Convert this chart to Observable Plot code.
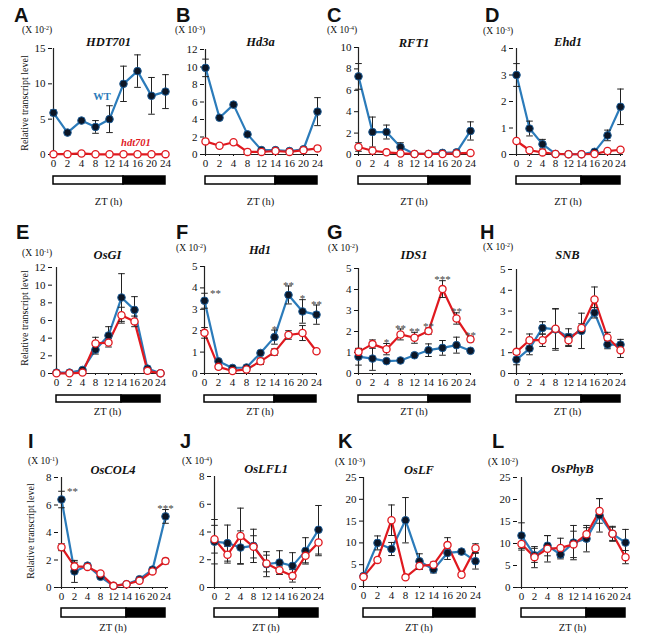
<!DOCTYPE html>
<html><head><meta charset="utf-8">
<script src="https://cdn.jsdelivr.net/npm/d3@7"></script>
<script src="https://cdn.jsdelivr.net/npm/@observablehq/plot@0.6"></script>
<style>
body{margin:0;background:#fff;}
#fig{position:relative;width:647px;height:640px;overflow:hidden;background:#fff;font-family:"Liberation Serif","Times New Roman","DejaVu Serif",serif;color:#111;}
.abs{position:absolute;white-space:nowrap;line-height:1;}
.letter{font-family:"Liberation Sans",Arial,sans-serif;font-weight:bold;font-size:20px;line-height:16px;transform:translate(0,-50%);}
.unit{font-size:9.5px;transform:translate(0,-50%);}
.unit sup{font-size:6px;vertical-align:top;position:relative;top:-1px;}
.title{font-weight:bold;font-style:italic;font-size:12.5px;transform:translate(-50%,-50%);}
.zt{font-size:10.5px;transform:translate(-50%,-50%);}
.ylab{font-size:10px;transform:translate(-50%,-50%) rotate(-90deg);}
.wtlab{font-weight:bold;font-size:10.5px;color:#2b7bba;transform:translate(-50%,-50%);}
.mutlab{font-weight:bold;font-style:italic;font-size:10.5px;color:#e0191f;transform:translate(-50%,-50%);}
#fig svg{position:absolute;overflow:visible;}
#fig svg text{font-family:"Liberation Serif","Times New Roman","DejaVu Serif",serif;}
</style></head>
<body><div id="fig"></div>
<script>
// ---------------- data ----------------
const zt = [0, 2, 4, 8, 12, 14, 16, 20, 24];
const phases = [{phase: "light", start: 0, end: 14}, {phase: "dark", start: 14, end: 24}];

// A HDT701 (x10^-2)
const hdt701WT     = [5.9, 3.1, 4.8, 3.9, 5.0, 10.0, 11.8, 8.3, 8.9];
const hdt701WTErr  = [0.4, 0.2, 0.25, 0.9, 1.9, 2.5, 2.3, 2.6, 2.4];
const hdt701Mut    = [0.05, 0.05, 0.15, 0.03, 0.03, 0.03, 0.03, 0.03, 0.05];
const hdt701MutErr = [0.05, 0.05, 0.1, 0.02, 0.02, 0.02, 0.02, 0.02, 0.03];
// B Hd3a (x10^-3)
const hd3aWT     = [9.9, 4.2, 5.7, 2.3, 0.5, 0.5, 0.4, 0.6, 4.9];
const hd3aWTErr  = [1.0, 0.2, 0.2, 0.2, 0.1, 0.1, 0.1, 0.15, 1.6];
const hd3aMut    = [1.5, 1.0, 1.4, 0.3, 0.3, 0.4, 0.3, 0.5, 0.7];
const hd3aMutErr = [0.2, 0.2, 0.2, 0.1, 0.1, 0.1, 0.1, 0.1, 0.15];
// C RFT1 (x10^-4)
const rft1WT     = [7.3, 2.1, 2.1, 0.7, 0.05, 0.05, 0.15, 0.2, 2.2];
const rft1WTErr  = [1.2, 1.4, 0.65, 0.4, 0.05, 0.05, 0.05, 0.1, 0.85];
const rft1Mut    = [0.7, 0.35, 0.2, 0.1, 0.05, 0.05, 0.05, 0.1, 0.15];
const rft1MutErr = [0.4, 0.15, 0.1, 0.05, 0.03, 0.03, 0.03, 0.05, 0.05];
// D Ehd1 (x10^-3)
const ehd1WT     = [3.0, 0.98, 0.39, 0.02, 0.01, 0.01, 0.1, 0.72, 1.8];
const ehd1WTErr  = [0.43, 0.28, 0.18, 0.02, 0.01, 0.01, 0.05, 0.2, 0.67];
const ehd1Mut    = [0.51, 0.16, 0.08, 0.02, 0.01, 0.01, 0.02, 0.13, 0.18];
const ehd1MutErr = [0.05, 0.05, 0.03, 0.01, 0.01, 0.01, 0.01, 0.03, 0.08];
// E OsGI (x10^-1)
const osgiWT     = [0.1, 0.1, 0.4, 2.7, 4.3, 8.6, 7.2, 0.55, 0.02];
const osgiWTErr  = [0.05, 0.05, 0.1, 0.5, 1.0, 2.7, 1.5, 0.1, 0.02];
const osgiMut    = [0.02, 0.02, 0.1, 3.4, 3.5, 6.6, 5.9, 0.3, 0.02];
const osgiMutErr = [0.02, 0.02, 0.05, 0.7, 0.5, 0.9, 0.6, 0.1, 0.02];
// F Hd1 (x10^-2)
const hd1WT     = [3.4, 0.57, 0.26, 0.28, 0.96, 1.7, 3.67, 2.9, 2.75];
const hd1WTErr  = [0.35, 0.08, 0.05, 0.05, 0.1, 0.33, 0.42, 0.55, 0.45];
const hd1Mut    = [1.9, 0.31, 0.12, 0.19, 0.57, 1.0, 1.8, 1.89, 1.04];
const hd1MutErr = [0.25, 0.1, 0.05, 0.05, 0.15, 0.15, 0.2, 0.35, 0.08];
const hd1Stars  = ["**", "", "", "", "", "*", "**", "*", "**"];
// G IDS1 (x10^-2)
const ids1WT     = [0.8, 0.71, 0.59, 0.62, 0.87, 1.11, 1.22, 1.35, 1.08];
const ids1WTErr  = [0.4, 0.56, 0.05, 0.05, 0.1, 0.3, 0.35, 0.38, 0.1];
const ids1Mut    = [1.03, 1.4, 1.16, 1.86, 1.7, 2.02, 4.02, 2.62, 1.63];
const ids1MutErr = [0.15, 0.2, 0.27, 0.26, 0.26, 0.15, 0.4, 0.27, 0.12];
const ids1Stars  = ["", "", "*", "**", "**", "**", "***", "**", "**"];
// H SNB (x10^-2)
const snbWT     = [0.67, 1.2, 2.19, 2.12, 1.75, 2.05, 2.92, 1.39, 1.39];
const snbWTErr  = [0.25, 0.3, 0.3, 1.0, 0.4, 0.85, 0.25, 0.2, 0.25];
const snbMut    = [1.04, 1.6, 1.6, 2.15, 1.6, 2.19, 3.56, 1.73, 1.12];
const snbMutErr = [0.1, 0.3, 0.3, 0.95, 0.3, 0.2, 0.6, 0.25, 0.35];
// I OsCOL4 (x10^-1)
const col4WT     = [6.4, 1.17, 1.59, 0.78, 0.12, 0.24, 0.6, 1.3, 5.17];
const col4WTErr  = [0.6, 0.8, 0.1, 0.1, 0.05, 0.05, 0.1, 0.15, 0.5];
const col4Mut    = [2.93, 1.54, 1.5, 1.02, 0.12, 0.24, 0.49, 1.17, 1.92];
const col4MutErr = [0.25, 0.3, 0.1, 0.1, 0.05, 0.05, 0.1, 0.15, 0.2];
const col4Stars  = ["**", "", "", "", "", "", "", "", "***"];
// J OsLFL1 (x10^-4)
const lfl1WT     = [3.3, 3.2, 2.88, 3.0, 1.68, 1.8, 1.56, 2.64, 4.16];
const lfl1WTErr  = [1.6, 1.3, 1.2, 1.2, 0.9, 0.85, 0.95, 0.95, 1.75];
const lfl1Mut    = [3.48, 2.36, 3.72, 2.93, 1.73, 1.25, 0.84, 2.28, 3.24];
const lfl1MutErr = [1.0, 0.6, 2.0, 0.8, 0.6, 0.3, 0.45, 0.5, 0.95];
// K OsLF (x10^-3)
const oslfWT     = [2.4, 10.0, 8.6, 15.2, 5.8, 3.9, 7.7, 8.0, 5.8];
const oslfWTErr  = [0.5, 1.6, 1.5, 5.2, 1.7, 0.8, 1.5, 0.5, 1.8];
const oslfMut    = [2.2, 6.1, 15.2, 2.1, 4.7, 5.0, 9.5, 2.7, 8.8];
const oslfMutErr = [0.3, 0.5, 3.5, 0.3, 0.8, 0.6, 1.7, 0.4, 1.0];
// L OsPhyB (x10^-2)
const phybWT     = [11.8, 7.3, 9.5, 7.5, 10.2, 11.1, 16.4, 12.2, 10.2];
const phybWTErr  = [2.9, 1.6, 2.3, 1.0, 3.9, 3.0, 3.8, 1.7, 3.0];
const phybMut    = [9.9, 6.9, 8.8, 9.0, 9.8, 12.1, 17.4, 12.2, 6.9];
const phybMutErr = [1.4, 2.4, 3.0, 2.2, 3.0, 1.5, 2.8, 1.5, 1.5];

const panels = [
  {id: "A", gene: "HDT701", exp: "-2", yTicks: [0, 5, 10, 15], wt: hdt701WT, wtErr: hdt701WTErr, mut: hdt701Mut, mutErr: hdt701MutErr},
  {id: "B", gene: "Hd3a", exp: "-3", yTicks: [0, 2, 4, 6, 8, 10, 12], wt: hd3aWT, wtErr: hd3aWTErr, mut: hd3aMut, mutErr: hd3aMutErr},
  {id: "C", gene: "RFT1", exp: "-4", yTicks: [0, 2, 4, 6, 8, 10], wt: rft1WT, wtErr: rft1WTErr, mut: rft1Mut, mutErr: rft1MutErr},
  {id: "D", gene: "Ehd1", exp: "-3", yTicks: [0, 1, 2, 3, 4], wt: ehd1WT, wtErr: ehd1WTErr, mut: ehd1Mut, mutErr: ehd1MutErr},
  {id: "E", gene: "OsGI", exp: "-1", yTicks: [0, 2, 4, 6, 8, 10, 12], wt: osgiWT, wtErr: osgiWTErr, mut: osgiMut, mutErr: osgiMutErr},
  {id: "F", gene: "Hd1", exp: "-2", yTicks: [0, 1, 2, 3, 4, 5], wt: hd1WT, wtErr: hd1WTErr, mut: hd1Mut, mutErr: hd1MutErr, stars: hd1Stars},
  {id: "G", gene: "IDS1", exp: "-2", yTicks: [0, 1, 2, 3, 4, 5], wt: ids1WT, wtErr: ids1WTErr, mut: ids1Mut, mutErr: ids1MutErr, stars: ids1Stars},
  {id: "H", gene: "SNB", exp: "-2", yTicks: [0, 1, 2, 3, 4, 5], wt: snbWT, wtErr: snbWTErr, mut: snbMut, mutErr: snbMutErr},
  {id: "I", gene: "OsCOL4", exp: "-1", yTicks: [0, 2, 4, 6, 8], wt: col4WT, wtErr: col4WTErr, mut: col4Mut, mutErr: col4MutErr, stars: col4Stars},
  {id: "J", gene: "OsLFL1", exp: "-4", yTicks: [0, 2, 4, 6, 8], wt: lfl1WT, wtErr: lfl1WTErr, mut: lfl1Mut, mutErr: lfl1MutErr},
  {id: "K", gene: "OsLF", exp: "-3", yTicks: [0, 5, 10, 15, 20, 25], wt: oslfWT, wtErr: oslfWTErr, mut: oslfMut, mutErr: oslfMutErr},
  {id: "L", gene: "OsPhyB", exp: "-2", yTicks: [0, 5, 10, 15, 20, 25], wt: phybWT, wtErr: phybWTErr, mut: phybMut, mutErr: phybMutErr}
];

// ---------------- layout (pixels) ----------------
const R1 = {bar: [176, 184], zt: 202}, R2 = {bar: [395, 402], zt: 412}, R3 = {bar: [608, 617], zt: 628};
const layout = {
  A: {x0: 52, x1: 165, yTop: 48, yBot: 154, ...R1, lx: 14, ly: 15, ux: 22, uy: 31, ty: 42},
  B: {x0: 204, x1: 317, yTop: 49, yBot: 154, ...R1, lx: 176, ly: 15, ux: 175, uy: 31, ty: 42},
  C: {x0: 358, x1: 470, yTop: 47, yBot: 154, ...R1, lx: 327, ly: 15, ux: 327, uy: 31, ty: 43},
  D: {x0: 513, x1: 623, yTop: 48, yBot: 154, ...R1, lx: 485, ly: 15, ux: 483, uy: 32, ty: 42},
  E: {x0: 52, x1: 163, yTop: 267, yBot: 373, ...R2, lx: 16, ly: 232, ux: 22, uy: 254, ty: 255},
  F: {x0: 204, x1: 316, yTop: 266, yBot: 373, ...R2, lx: 176, ly: 232, ux: 176, uy: 249, ty: 250},
  G: {x0: 358, x1: 470, yTop: 268, yBot: 373, ...R2, lx: 327, ly: 232, ux: 328, uy: 249, ty: 255},
  H: {x0: 512, x1: 623, yTop: 269, yBot: 373, ...R2, lx: 480, ly: 232, ux: 483, uy: 248, ty: 255},
  I: {x0: 58, x1: 168, yTop: 477, yBot: 587, ...R3, lx: 28, ly: 441, ux: 28, uy: 462, ty: 470},
  J: {x0: 211, x1: 321, yTop: 476, yBot: 587, ...R3, lx: 180, ly: 441, ux: 182, uy: 462, ty: 469},
  K: {x0: 363, x1: 475, yTop: 477, yBot: 586, ...R3, lx: 338, ly: 441, ux: 335, uy: 463, ty: 470},
  L: {x0: 517, x1: 628, yTop: 477, yBot: 587, ...R3, lx: 492, ly: 441, ux: 488, uy: 463, ty: 469}
};
const yLabels = [{x: 25, y: 103}, {x: 25, y: 318}, {x: 31, y: 531}];

const BLUE = "#2b7bba", RED = "#e0191f", BAR_INK = "#222";
const mL = 32, mR = 16, mT = 8, mB = 22;
const SERIF = "'Liberation Serif', 'Times New Roman', 'DejaVu Serif', serif";
const capSymbol = {draw(ctx, size) { const w = Math.sqrt(size / Math.PI); ctx.moveTo(-w, 0); ctx.lineTo(w, 0); }};

const fig = document.getElementById("fig");
function addText(html, x, y, cls) {
  const d = document.createElement("div");
  d.className = "abs " + cls;
  d.style.left = x + "px"; d.style.top = y + "px";
  d.innerHTML = html;
  fig.appendChild(d);
}

function errMarks(rows, v, e) {
  return [
    Plot.ruleX(rows, {x: "zt", y1: d => Math.max(0, d[v] - d[e]), y2: d => d[v] + d[e], stroke: BAR_INK, strokeWidth: 1}),
    Plot.dot(rows, {x: "zt", y: d => d[v] + d[e], symbol: capSymbol, r: 3.3, stroke: BAR_INK, strokeWidth: 1, fill: "none"}),
    Plot.dot(rows, {x: "zt", y: d => Math.max(0, d[v] - d[e]), symbol: capSymbol, r: 3.3, stroke: BAR_INK, strokeWidth: 1, fill: "none"})
  ];
}

for (const p of panels) {
  const L = layout[p.id];
  const rows = zt.map((t, i) => ({zt: t, wt: p.wt[i], wtErr: p.wtErr[i], mut: p.mut[i], mutErr: p.mutErr[i],
    star: p.stars ? p.stars[i] : "", top: Math.max(p.wt[i] + p.wtErr[i], p.mut[i] + p.mutErr[i])}));
  const W = L.x1 - L.x0 + mL + mR;
  const H = L.yBot - L.yTop + mT + mB;
  const yMax = p.yTicks[p.yTicks.length - 1];
  const starFirst = rows.filter(d => d.star && d.zt === zt[0]);
  const starRest = rows.filter(d => d.star && d.zt !== zt[0]);
  const chart = Plot.plot({
    width: W, height: H, marginLeft: mL, marginRight: mR, marginTop: mT, marginBottom: mB,
    style: {fontFamily: SERIF, fontSize: "11px", color: "#111", background: "transparent", overflow: "visible"},
    x: {type: "point", domain: zt, padding: 0},
    y: {domain: [0, yMax]},
    marks: [
      Plot.axisY({ticks: p.yTicks, tickFormat: d => String(d), tickSize: 4, tickPadding: 3, label: null}),
      Plot.axisX({ticks: zt, tickFormat: d => String(d), tickSize: 2, tickPadding: 3, label: null}),
      Plot.ruleY([0], {stroke: "#222", strokeWidth: 1.2}),
      Plot.ruleX([zt[0]], {stroke: "#222", strokeWidth: 1.2}),
      Plot.line(rows, {x: "zt", y: "wt", stroke: BLUE, strokeWidth: 2.2}),
      Plot.line(rows, {x: "zt", y: "mut", stroke: RED, strokeWidth: 2.2}),
      ...errMarks(rows, "wt", "wtErr"),
      ...errMarks(rows, "mut", "mutErr"),
      Plot.dot(rows, {x: "zt", y: "wt", r: 3.8, fill: "#0c1626", stroke: "#1d5c96", strokeWidth: 1}),
      Plot.dot(rows, {x: "zt", y: "mut", r: 3.6, fill: "white", stroke: RED, strokeWidth: 1.3}),
      Plot.text(starRest, {x: "zt", y: "top", text: "star", dy: -1, fontSize: 11, fill: "#444"}),
      Plot.text(starFirst, {x: "zt", y: "top", text: "star", dy: 0, dx: 11, fontSize: 11, fill: "#444"})
    ]
  });
  chart.style.left = (L.x0 - mL) + "px";
  chart.style.top = (L.yTop - mT) + "px";
  fig.appendChild(chart);

  const barH = L.bar[1] - L.bar[0];
  const bar = Plot.plot({
    width: W, height: barH + 2, marginLeft: mL, marginRight: mR, marginTop: 1, marginBottom: 1,
    style: {background: "transparent", overflow: "visible"},
    x: {type: "point", domain: zt, padding: 0, axis: null},
    color: {domain: ["light", "dark"], range: ["white", "black"]},
    marks: [Plot.rect(phases, {x1: "start", x2: "end", fill: "phase", stroke: "black", strokeWidth: 1.5})]
  });
  bar.style.left = (L.x0 - mL) + "px";
  bar.style.top = (L.bar[0] - 1) + "px";
  fig.appendChild(bar);

  addText(p.id, L.lx, L.ly, "letter");
  addText(`(X 10<sup>${p.exp}</sup>)`, L.ux, L.uy, "unit");
  addText(p.gene, (L.x0 + L.x1) / 2, L.ty, "title");
  addText("ZT (h)", (L.x0 + L.x1) / 2, L.zt, "zt");
}
for (const yl of yLabels) addText("Relative transcript level", yl.x, yl.y, "ylab");
addText("WT", 102, 97, "wtlab");
addText("hdt701", 136, 143, "mutlab");
</script>
</body></html>
